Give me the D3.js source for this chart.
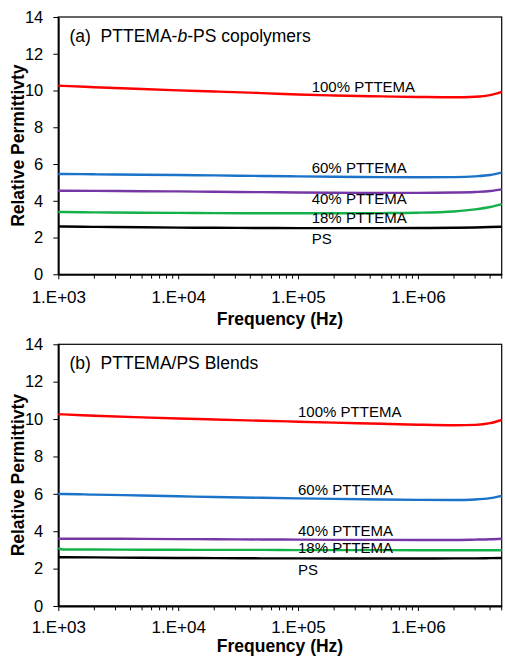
<!DOCTYPE html>
<html lang="en">
<head>
<meta charset="UTF-8">
<title>Relative permittivity</title>
<script src="https://d3js.org/d3.v7.min.js"></script>
<style>
  body { margin: 0; background: #fff; }
  svg text { font-family: "Liberation Sans", Arial, sans-serif; fill: #000; }
</style>
</head>
<body>
<svg id="chart" width="505" height="656"></svg>
<script>
// frequency points (Hz), shared by every curve
const freq = [1e3, 1.1e3, 2e3, 5e3, 1e4, 2e4, 5e4, 1e5, 2e5, 5e5, 1e6, 2e6, 3e6, 4e6, 5e6];

const seriesNames = ["100% PTTEMA", "60% PTTEMA", "40% PTTEMA", "18% PTTEMA", "PS"];
const seriesColors = ["#ff0000", "#1a72c9", "#7536a6", "#14b04a", "#000000"];

// (a) copolymers
const copolyRed    = [10.26, 10.25, 10.18, 10.08, 10.01, 9.95, 9.86, 9.78, 9.73, 9.68, 9.65, 9.63, 9.66, 9.75, 9.93];
const copolyBlue   = [5.46, 5.46, 5.44, 5.42, 5.40, 5.38, 5.35, 5.33, 5.31, 5.29, 5.28, 5.29, 5.33, 5.40, 5.53];
const copolyPurple = [4.55, 4.55, 4.54, 4.52, 4.51, 4.49, 4.47, 4.45, 4.44, 4.43, 4.43, 4.45, 4.48, 4.53, 4.62];
const copolyGreen  = [3.39, 3.39, 3.37, 3.35, 3.34, 3.33, 3.32, 3.32, 3.32, 3.33, 3.35, 3.42, 3.53, 3.66, 3.82];
const copolyBlack  = [2.60, 2.60, 2.58, 2.56, 2.54, 2.53, 2.52, 2.51, 2.51, 2.51, 2.52, 2.53, 2.55, 2.57, 2.59];

// (b) blends
const blendRed    = [10.26, 10.25, 10.18, 10.09, 10.03, 9.98, 9.91, 9.86, 9.81, 9.75, 9.70, 9.67, 9.69, 9.78, 9.95];
const blendBlue   = [5.99, 5.99, 5.96, 5.91, 5.87, 5.83, 5.79, 5.76, 5.73, 5.70, 5.68, 5.67, 5.70, 5.77, 5.89];
const blendPurple = [3.60, 3.60, 3.60, 3.59, 3.58, 3.57, 3.56, 3.55, 3.54, 3.54, 3.53, 3.53, 3.55, 3.57, 3.60];
const blendGreen  = [3.10, 3.02, 3.02, 3.01, 3.01, 3.00, 3.00, 2.99, 2.99, 2.99, 2.98, 2.98, 2.98, 2.98, 2.98];
const blendBlack  = [2.61, 2.61, 2.60, 2.58, 2.57, 2.56, 2.55, 2.55, 2.54, 2.54, 2.54, 2.55, 2.55, 2.56, 2.57];

// curve label anchors in data units [frequency, permittivity]
const copolyLabelAt = [[1.3e5, 9.93], [1.3e5, 5.53], [1.3e5, 3.81], [1.3e5, 2.77], [1.3e5, 1.65]];
const blendLabelAt  = [[1.0e5, 10.13], [1.0e5, 5.94], [1.0e5, 3.77], [1.0e5, 2.82], [1.0e5, 1.66]];

const yTicks = [0, 2, 4, 6, 8, 10, 12, 14];
const xMajor = [1e3, 1e4, 1e5, 1e6];
const xMinor = [];
[1e3, 1e4, 1e5, 1e6].forEach(d => {
  for (let k = 2; k <= 9; k++) if (d * k <= 5e6) xMinor.push(d * k);
});

const svg = d3.select("#chart");

function panel(cfg) {
  const left = 58.3, right = 501.7;
  const x = d3.scaleLog().domain([1e3, 5e6]).range([left, right]);
  const y = d3.scaleLinear().domain([0, 14]).range([cfg.bottom, cfg.top]);
  const g = svg.append("g");

  // frame
  g.append("rect")
    .attr("x", left).attr("y", cfg.top)
    .attr("width", right - left).attr("height", cfg.bottom - cfg.top)
    .attr("fill", "none").attr("stroke", "#000").attr("stroke-width", 1.2);

  // minor x ticks
  g.selectAll(".minor").data(xMinor).join("line")
    .attr("x1", d => x(d)).attr("x2", d => x(d))
    .attr("y1", cfg.bottom).attr("y2", cfg.bottom + 4.3)
    .attr("stroke", "#000").attr("stroke-width", 1);

  const xAxis = g.append("g")
    .attr("transform", `translate(0,${cfg.bottom})`)
    .call(d3.axisBottom(x).tickValues(xMajor)
      .tickFormat(d => "1.E+" + d3.format("02d")(Math.round(Math.log10(d))))
      .tickSize(5).tickSizeOuter(0).tickPadding(cfg.xPad));
  xAxis.select(".domain").attr("stroke-width", 1.8);
  xAxis.selectAll("text").style("font-size", "17px");

  const yAxis = g.append("g")
    .attr("transform", `translate(${left},0)`)
    .call(d3.axisLeft(y).tickValues(yTicks).tickSize(5).tickSizeOuter(0).tickPadding(10));
  yAxis.select(".domain").attr("stroke-width", 1.8);
  yAxis.selectAll("text").style("font-size", "16.5px");

  // curves
  const line = d3.line()
    .x(d => x(d[0])).y(d => y(d[1]))
    .curve(d3.curveMonotoneX);
  cfg.series.forEach((vals, i) => {
    g.append("path")
      .datum(freq.map((f, j) => [f, vals[j]]))
      .attr("fill", "none")
      .attr("stroke", seriesColors[i])
      .attr("stroke-width", 2.4)
      .attr("d", line);
  });

  // curve labels
  g.selectAll(".lbl").data(cfg.labelAt).join("text")
    .attr("x", d => x(d[0])).attr("y", d => y(d[1]))
    .style("font-size", "15px")
    .text((d, i) => seriesNames[i]);

  // panel title
  const t = g.append("text")
    .attr("x", 69.5).attr("y", cfg.top + 25)
    .style("font-size", "17.5px")
    .style("white-space", "pre");
  cfg.title.forEach(p => {
    t.append("tspan").style("font-style", p[1] ? "italic" : "normal").text(p[0]);
  });

  // axis titles
  g.append("text")
    .attr("x", (left + right) / 2).attr("y", cfg.bottom + cfg.xTitleGap)
    .attr("text-anchor", "middle")
    .style("font-size", "17.5px").style("font-weight", "bold")
    .text("Frequency (Hz)");
  g.append("text")
    .attr("transform", `translate(23.5,${(cfg.top + cfg.bottom) / 2}) rotate(-90)`)
    .attr("text-anchor", "middle")
    .style("font-size", "17.5px").style("font-weight", "bold")
    .text("Relative Permittivty");
}

panel({
  top: 17, bottom: 274.3, xTitleGap: 50.5, xPad: 12,
  series: [copolyRed, copolyBlue, copolyPurple, copolyGreen, copolyBlack],
  labelAt: copolyLabelAt,
  title: [["(a)  PTTEMA-", false], ["b", true], ["-PS copolymers", false]]
});

panel({
  top: 344.3, bottom: 606, xTitleGap: 46.3, xPad: 9.5,
  series: [blendRed, blendBlue, blendPurple, blendGreen, blendBlack],
  labelAt: blendLabelAt,
  title: [["(b)  PTTEMA/PS Blends", false]]
});
</script>
</body>
</html>
